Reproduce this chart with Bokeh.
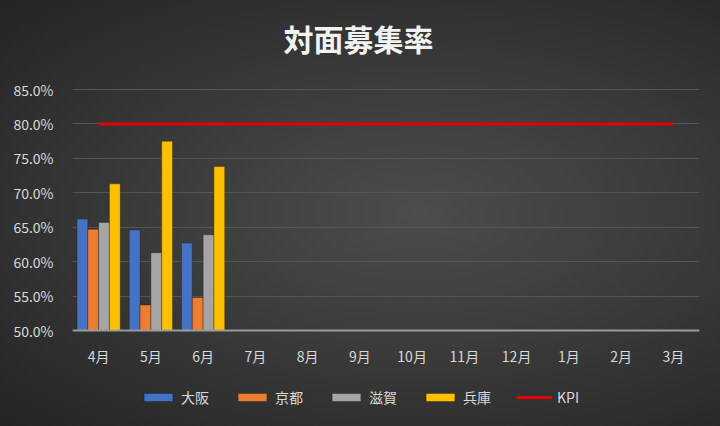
from bokeh.plotting import figure
from bokeh.models import (FactorRange, Range1d, FixedTicker, NumeralTickFormatter, Legend, LegendItem,
                          ColumnDataSource, Label)
from bokeh.transform import dodge
from bokeh.embed import file_html
from bokeh.resources import INLINE

# ---- data ----
title_text = "対面募集率"
months = ["4月", "5月", "6月", "7月", "8月", "9月", "10月", "11月", "12月", "1月", "2月", "3月"]
bar_months = ["4月", "5月", "6月"]
osaka = [0.662, 0.646, 0.627]
kyoto = [0.647, 0.537, 0.548]
shiga = [0.657, 0.613, 0.639]
hyogo = [0.713, 0.775, 0.738]
kpi = [0.80, 0.80, 0.80, 0.80, 0.80, 0.80, 0.80, 0.80, 0.80, 0.80, 0.80, 0.80]
y_ticks = [0.50, 0.55, 0.60, 0.65, 0.70, 0.75, 0.80, 0.85]
series_names = ["大阪", "京都", "滋賀", "兵庫"]
series_colors = ["#4472c4", "#ed7d31", "#a5a5a5", "#ffc000"]

FONT = "Noto Sans CJK JP"
TXT = "#d9d9d9"

# layout (pixels)
TOP, FRAME_W, LEFT, RIGHT, BOTTOM = 6, 627, 72, 21, 4
PLOT_H = 241          # height of the 50%..85% band
ABOVE = 83            # frame space above 85% (title)
EXTRA = 92            # frame space below the 50% baseline (x labels + legend)
FRAME_H = ABOVE + PLOT_H + EXTRA
baseline = y_ticks[0]
y_top = y_ticks[-1]
unit = (y_top - baseline) / PLOT_H
y_start = baseline - EXTRA * unit
y_end = y_top + ABOVE * unit

bars = ColumnDataSource(dict(month=bar_months, osaka=osaka, kyoto=kyoto, shiga=shiga, hyogo=hyogo))
kpi_src = ColumnDataSource(dict(month=months, kpi=kpi))

p = figure(frame_width=FRAME_W, frame_height=FRAME_H, x_range=FactorRange(factors=months),
           y_range=Range1d(y_start, y_end), output_backend="svg", toolbar_location=None,
           x_axis_location="above",
           min_border_left=LEFT, min_border_right=RIGHT, min_border_top=TOP, min_border_bottom=BOTTOM)

p.stylesheets = [":host { background: radial-gradient(ellipse at 58% 50%, #4c4c4c 0%, #3b3b3b 45%, #242424 100%); }"]
p.background_fill_alpha = 0
p.border_fill_alpha = 0
p.outline_line_alpha = 0

bw = 0.207
offsets = [-1.5 * bw, -0.5 * bw, 0.5 * bw, 1.5 * bw]
fields = ["osaka", "kyoto", "shiga", "hyogo"]
items = []
for f, off, col, name in zip(fields, offsets, series_colors, series_names):
    r = p.vbar(x=dodge("month", off, range=p.x_range), top=f, bottom=baseline, width=bw,
               source=bars, fill_color=col, line_color="#1a1a1a", line_alpha=0.45, line_width=0.8)
    items.append(LegendItem(label=name, renderers=[r]))

kl = p.line(x="month", y="kpi", source=kpi_src, line_color="#e60000", line_width=3)
items.append(LegendItem(label="KPI", renderers=[kl]))

# axes
p.yaxis.ticker = FixedTicker(ticks=y_ticks)
p.yaxis.formatter = NumeralTickFormatter(format="0.0%")
p.yaxis.axis_line_alpha = 0
p.yaxis.major_tick_line_alpha = 0
p.yaxis.minor_tick_line_alpha = 0
p.yaxis.major_label_standoff = 13
for ax in (p.xaxis, p.yaxis):
    ax.major_label_text_color = TXT
    ax.major_label_text_font = FONT
    ax.major_label_text_font_size = "14px"
# category axis drawn on the 50% baseline, labels hanging below it
p.xaxis.fixed_location = baseline
p.xaxis.axis_line_color = "#9a9a9a"
p.xaxis.axis_line_width = 2
p.xaxis.major_tick_line_alpha = 0
p.xaxis.major_tick_out = 0
p.xaxis.major_tick_in = 0
p.xaxis.major_label_standoff = -35

p.xgrid.grid_line_alpha = 0
p.ygrid.ticker = FixedTicker(ticks=y_ticks)
p.ygrid.grid_line_color = "#555555"
p.ygrid.grid_line_width = 1

# title
p.add_layout(Label(x=286, y=FRAME_H - 31, x_units="screen", y_units="screen", text=title_text,
                   text_align="center", text_baseline="middle", text_font=FONT,
                   text_font_size="30px", text_font_style="bold", text_color="#f2f2f2"))

legend = Legend(items=items, orientation="horizontal", location=(58, 5),
                glyph_width=36, glyph_height=10, label_standoff=5, spacing=25,
                label_text_font=FONT, label_text_font_size="14px", label_text_color=TXT,
                background_fill_alpha=0, border_line_alpha=0, margin=0, padding=10)
p.add_layout(legend, "center")

open("out.html", "w").write(file_html(p, INLINE))
